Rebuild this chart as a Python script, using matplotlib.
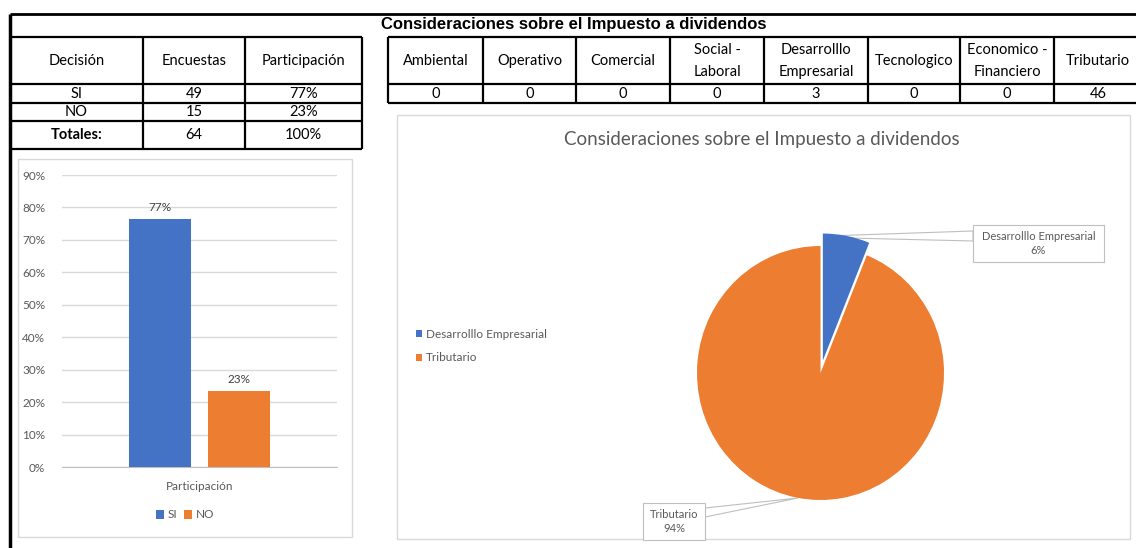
import matplotlib.pyplot as plt
import numpy as np
from matplotlib.patches import Rectangle, Polygon

# datos
decision = ['SI', 'NO']
encuestas = [49, 15]
header_izq = ['Decisión', 'Encuestas', 'Participación']
categorias = ['Ambiental', 'Operativo', 'Comercial', 'Social -\nLaboral',
              'Desarrolllo\nEmpresarial', 'Tecnologico', 'Economico -\nFinanciero', 'Tributario']
valores = [0, 0, 0, 0, 3, 0, 0, 46]
titulo = 'Consideraciones sobre el Impuesto a dividendos'

azul = '#4472C4'
naranja = '#ED7D31'
gris_txt = '#595959'
gris_borde = '#d9d9d9'

W, H = 1136, 548
plt.rcParams['font.family'] = ['Lato', 'DejaVu Sans']

fig = plt.figure(figsize=(W / 100, H / 100), dpi=100)


def rect(l, t, r, b):
    return [l / W, 1 - b / H, (r - l) / W, (b - t) / H]


bg = fig.add_axes([0, 0, 1, 1])
bg.set_xlim(0, W)
bg.set_ylim(H, 0)
bg.axis('off')


def hline(y, x0, x1, lw=1.6):
    bg.plot([x0, x1], [y, y], color='k', lw=lw, solid_capstyle='butt')


def vline(x, y0, y1, lw=1.6):
    bg.plot([x, x], [y0, y1], color='k', lw=lw, solid_capstyle='butt')


# ---- marco general ----
hline(14, 10, W, lw=2)
vline(10, 14, H, lw=2.5)

# ---- tabla izquierda ----
total = sum(encuestas)
part = [e / total for e in encuestas]
cols_izq = [10, 143, 245, 362]
filas_izq = [37, 84, 103, 121, 149]
for y in filas_izq:
    hline(y, 10, 362)
for x in cols_izq[1:]:
    vline(x, 37, 149)
cx = [(cols_izq[i] + cols_izq[i + 1]) / 2 for i in range(3)]
for i, h in enumerate(header_izq):
    bg.text(cx[i], 61, h, ha='center', va='center', fontsize=10.5)
filas = [[d, str(e), f'{p * 100:.0f}%'] for d, e, p in zip(decision, encuestas, part)]
filas.append(['Totales:', str(total), f'{sum(part) * 100:.0f}%'])
for r, fila in enumerate(filas):
    ym = (filas_izq[r + 1] + filas_izq[r + 2]) / 2
    for i, t in enumerate(fila):
        bold = (r == 2 and i == 0)
        bg.text(cx[i], ym, t, ha='center', va='center', fontsize=10.5,
                fontweight='bold' if bold else 'normal')

# ---- tabla derecha ----
bg.text(381, 25, titulo, ha='left', va='center', fontsize=12, fontweight='bold',
        family='Liberation Sans')
cols_der = [388, 483, 576, 670, 764, 868, 960, 1054, 1150]
for y in [37, 84, 103]:
    hline(y, 388, W)
for x in cols_der[:-1]:
    vline(x, 37, 103)
for i, c in enumerate(categorias):
    xm = (cols_der[i] + cols_der[i + 1]) / 2
    if i == len(categorias) - 1:
        xm = 1098
    bg.text(xm, 61, c, ha='center', va='center', fontsize=10.5, linespacing=1.75)
    bg.text(xm, 94, str(valores[i]), ha='center', va='center', fontsize=10.5)

# ---- grafico de barras ----
bg.add_patch(Rectangle((18, 159), 334, 378, fill=False, ec=gris_borde, lw=1))
ax = fig.add_axes(rect(62, 175, 337, 467))
ax.set_facecolor('none')
bw = 62 / 275
off = 39.5 / 275
for i, (d, p, c) in enumerate(zip(decision, part, [azul, naranja])):
    x = (i * 2 - 1) * off
    ax.bar(x, p, width=bw, color=c, label=d, zorder=3)
    ax.annotate(f'{p * 100:.0f}%', (x, p), xytext=(0, 4), textcoords='offset points',
                ha='center', va='bottom', fontsize=8.5, color='#404040')
ax.set_xlim(-0.5, 0.5)
ax.set_ylim(0, 0.9)
ax.set_yticks(np.arange(0, 0.91, 0.1))
ax.set_yticklabels([f'{v}%' for v in range(0, 91, 10)])
ax.set_xticks([0])
ax.set_xticklabels(['Participación'])
ax.tick_params(length=0, labelsize=8.5, labelcolor=gris_txt)
ax.tick_params(axis='y', pad=12)
ax.tick_params(axis='x', pad=10)
ax.grid(axis='y', color=gris_borde, lw=1, zorder=0)
for s in ['top', 'right', 'left']:
    ax.spines[s].set_visible(False)
ax.spines['bottom'].set_color('#bfbfbf')
ax.legend(loc='center', bbox_to_anchor=(185 / W, 1 - 515 / H), bbox_transform=fig.transFigure,
          ncol=2, frameon=False, fontsize=8.5, handlelength=0.7, handleheight=0.7,
          handletextpad=0.3, columnspacing=0.6, labelcolor=gris_txt)

# ---- grafico de torta ----
bg.add_patch(Rectangle((397, 115), 733, 424, fill=False, ec=gris_borde, lw=1))
bg.text(762, 139, titulo, ha='center', va='center', fontsize=13.5, color=gris_txt)
pie_lab = [c.replace('\n', ' ').replace('- ', '-') for c, v in zip(categorias, valores) if v > 0]
pie_val = [v for v in valores if v > 0]
pcx, pcy, rx, ry, lim = 820.5, 373, 123.5, 127, 1.2
axp = fig.add_axes(rect(pcx - rx * lim, pcy - ry * lim, pcx + rx * lim, pcy + ry * lim))
axp.set_facecolor('none')
wedges, _ = axp.pie(pie_val, colors=[azul, naranja], startangle=90, counterclock=False,
                    explode=[0.1, 0], wedgeprops=dict(linewidth=0))
axp.set_aspect('auto')
axp.set_xlim(-lim, lim)
axp.set_ylim(-lim, lim)
axp.legend(wedges, pie_lab, loc='center left', bbox_to_anchor=(405 / W, 1 - 346 / H),
           bbox_transform=fig.transFigure, frameon=False, fontsize=8.5,
           handlelength=0.5, handleheight=0.5, handletextpad=0.4, labelspacing=1.1,
           labelcolor=gris_txt)

# etiquetas con llamada
pct = [v / sum(pie_val) for v in pie_val]
bg.add_patch(Polygon([(826, 236), (973, 231), (973, 241), (848, 238)], closed=False,
                     fill=False, ec='#bfbfbf', lw=0.8))
bg.add_patch(Rectangle((973, 225), 131, 37, fc='white', ec='#bfbfbf', lw=0.8))
bg.text(1038.5, 243.5, f'{pie_lab[0]}\n{pct[0] * 100:.0f}%', ha='center', va='center',
        fontsize=8, color=gris_txt, linespacing=1.4)
bg.add_patch(Polygon([(705, 508), (798, 498), (705, 517)], closed=False,
                     fill=False, ec='#bfbfbf', lw=0.8))
bg.add_patch(Rectangle((643, 503), 62, 37, fc='white', ec='#bfbfbf', lw=0.8))
bg.text(674, 521.5, f'{pie_lab[1]}\n{pct[1] * 100:.0f}%', ha='center', va='center',
        fontsize=8, color=gris_txt, linespacing=1.4)

fig.savefig('out.png', dpi=100)
